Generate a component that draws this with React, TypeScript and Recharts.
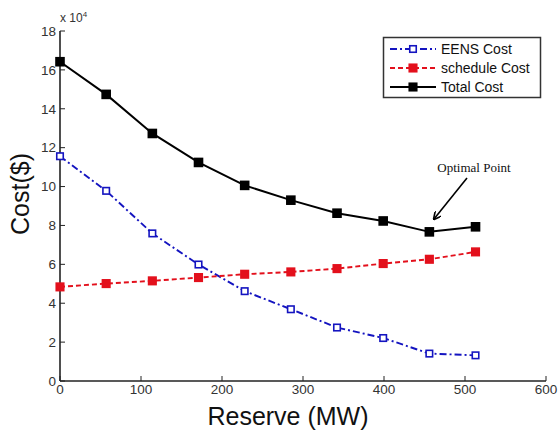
import React from 'react';
import { LineChart, Line, XAxis, YAxis } from 'recharts';

// Reserve (MW) and costs in units of 10^4 $
const reserveMW = [0, 57, 114, 171, 228, 285, 342, 399, 456, 513];
const eensCost = [11.56, 9.78, 7.59, 5.99, 4.62, 3.69, 2.75, 2.21, 1.41, 1.32];
const scheduleCost = [4.84, 5.01, 5.15, 5.32, 5.49, 5.61, 5.78, 6.04, 6.26, 6.64];
const totalCost = [16.42, 14.74, 12.73, 11.24, 10.06, 9.3, 8.63, 8.23, 7.67, 7.93];

const xTicks = [0, 100, 200, 300, 400, 500, 600];
const yTicks = [0, 2, 4, 6, 8, 10, 12, 14, 16, 18];

const seriesNames = ['EENS Cost', 'schedule Cost', 'Total Cost'];
const seriesColors = ['#1414c0', '#e3101c', '#000000'];
const seriesDash = ['7 3 2 3', '5 3', undefined];

const data = reserveMW.map((r, i) => ({
  reserve: r,
  eens: eensCost[i],
  schedule: scheduleCost[i],
  total: totalCost[i],
}));

const FONT = '"Liberation Sans", Arial, sans-serif';

const squareDot = (size: number, fill: string, stroke: string) => (props: any) => {
  const { cx, cy, index } = props;
  if (cx == null || cy == null) return <g key={index} />;
  return (
    <rect
      key={index}
      x={cx - size / 2}
      y={cy - size / 2}
      width={size}
      height={size}
      fill={fill}
      stroke={stroke}
      strokeWidth={1.6}
    />
  );
};

const emptyTick = () => <g />;

export default function App() {
  const tickStyle = { fontSize: 13.5, fill: '#333', fontFamily: FONT };
  return (
    <div style={{ position: 'absolute', left: 0, top: 0, width: 558, height: 432, background: '#fff' }}>
      <LineChart
        width={558}
        height={432}
        data={data}
        margin={{ top: 31, right: 12, bottom: 0, left: 0 }}
      >
        <XAxis
          dataKey="reserve"
          type="number"
          domain={[0, 600]}
          ticks={xTicks}
          height={51}
          tickSize={-5}
          tickMargin={8}
          tick={tickStyle}
          stroke="#222"
          axisLine={{ stroke: '#222', strokeWidth: 1.6 }}
          tickLine={{ stroke: '#222' }}
        />
        <XAxis
          xAxisId="top"
          orientation="top"
          dataKey="reserve"
          type="number"
          domain={[0, 600]}
          ticks={xTicks}
          height={0}
          tickSize={-5}
          tick={emptyTick}
          axisLine={{ stroke: '#222', strokeWidth: 1.6 }}
          tickLine={{ stroke: '#222' }}
        />
        <YAxis
          type="number"
          domain={[0, 18]}
          ticks={yTicks}
          width={60}
          tickSize={-5}
          tickMargin={9}
          tick={tickStyle}
          axisLine={{ stroke: '#222', strokeWidth: 1.6 }}
          tickLine={{ stroke: '#222' }}
        />
        <YAxis
          yAxisId="right"
          orientation="right"
          type="number"
          domain={[0, 18]}
          ticks={yTicks}
          width={0}
          tickSize={-5}
          tick={emptyTick}
          axisLine={{ stroke: '#222', strokeWidth: 1.6 }}
          tickLine={{ stroke: '#222' }}
        />
        <Line
          dataKey="eens"
          name={seriesNames[0]}
          stroke={seriesColors[0]}
          strokeWidth={1.9}
          strokeDasharray={seriesDash[0]}
          dot={squareDot(6.5, '#fff', seriesColors[0])}
          activeDot={false}
          isAnimationActive={false}
        />
        <Line
          dataKey="schedule"
          name={seriesNames[1]}
          stroke={seriesColors[1]}
          strokeWidth={1.9}
          strokeDasharray={seriesDash[1]}
          dot={squareDot(7.5, seriesColors[1], seriesColors[1])}
          activeDot={false}
          isAnimationActive={false}
        />
        <Line
          dataKey="total"
          name={seriesNames[2]}
          stroke={seriesColors[2]}
          strokeWidth={2}
          dot={squareDot(8, seriesColors[2], seriesColors[2])}
          activeDot={false}
          isAnimationActive={false}
        />
      </LineChart>
      <svg
        width={558}
        height={432}
        style={{ position: 'absolute', left: 0, top: 0, pointerEvents: 'none' }}
      >
        <defs>
          <marker id="arrowHead" markerWidth="8" markerHeight="8" refX="7" refY="4" orient="auto" markerUnits="userSpaceOnUse">
            <path d="M0,0 L8,4 L0,8" fill="none" stroke="#000" strokeWidth={1.6} />
          </marker>
        </defs>
        {/* exponent */}
        <text x={60} y={22} fontSize={12} fill="#333" fontFamily={FONT}>
          x 10<tspan dy={-5} fontSize={8}>4</tspan>
        </text>
        {/* axis titles */}
        <text
          x={288}
          y={425}
          textAnchor="middle"
          fontSize={25}
          fill="#111"
          fontFamily={FONT}
        >
          Reserve (MW)
        </text>
        <text
          transform="translate(29,194) rotate(-90)"
          textAnchor="middle"
          fontSize={25}
          fill="#111"
          fontFamily={FONT}
        >
          Cost($)
        </text>
        {/* legend */}
        <rect x={383.5} y={37.5} width={157} height={60} fill="#fff" stroke="#333" strokeWidth={1.5} />
        {seriesNames.map((name, i) => {
          const cy = 49 + i * 19;
          const size = i === 0 ? 6.5 : 7.5;
          return (
            <g key={name}>
              <line
                x1={390}
                x2={436}
                y1={cy}
                y2={cy}
                stroke={seriesColors[i]}
                strokeWidth={2}
                strokeDasharray={seriesDash[i]}
              />
              <rect
                x={413 - size / 2}
                y={cy - size / 2}
                width={size}
                height={size}
                fill={i === 0 ? '#fff' : seriesColors[i]}
                stroke={seriesColors[i]}
                strokeWidth={1.6}
              />
              <text x={441} y={cy + 5} fontSize={14} fill="#111" fontFamily={FONT}>
                {name}
              </text>
            </g>
          );
        })}
        {/* annotation */}
        <text x={474} y={172} textAnchor="middle" fontSize={13} fill="#111" fontFamily='"Liberation Serif", "Times New Roman", serif'>
          Optimal Point
        </text>
        <line x1={467} y1={178} x2={434} y2={219} stroke="#000" strokeWidth={1.6} markerEnd="url(#arrowHead)" />
      </svg>
    </div>
  );
}
